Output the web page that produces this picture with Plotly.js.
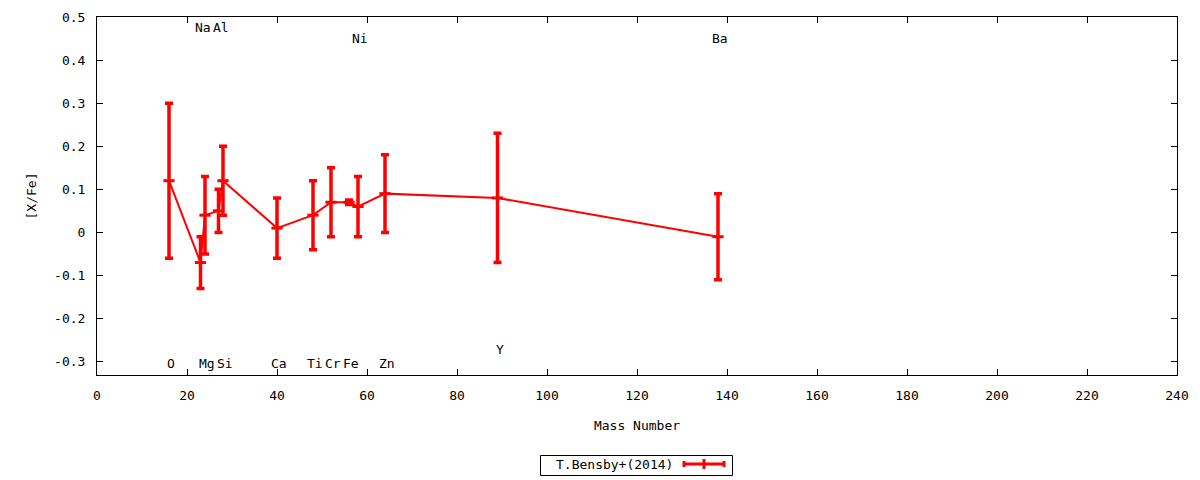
<!DOCTYPE html>
<html>
<head>
<meta charset="utf-8">
<script src="https://cdn.plot.ly/plotly-3.0.1.min.js"></script>
<style>html,body{margin:0;padding:0;background:#fff;}#chart{width:1200px;height:480px;}</style>
</head>
<body>
<div id="chart"></div>
<script>
const elements = ['O','Na','Mg','Al','Si','Ca','Ti','Cr','Fe','Ni','Zn','Y','Ba'];
const massNumber = [16,23,24,27,28,40,48,52,56,58,64,89,138];
const xfe = [0.12,-0.07,0.04,0.05,0.12,0.01,0.04,0.07,0.07,0.06,0.09,0.08,-0.01];
const xfeErr = [0.18,0.06,0.09,0.05,0.08,0.07,0.08,0.08,0.005,0.07,0.09,0.15,0.10];
const labelLevel = [-0.305,0.475,-0.305,0.475,-0.305,-0.305,-0.305,-0.305,-0.305,0.45,-0.305,-0.272,0.45];
const seriesName = 'T.Bensby+(2014)';
const xTickVals = [0,20,40,60,80,100,120,140,160,180,200,220,240];
const yTickVals = [-0.3,-0.2,-0.1,0,0.1,0.2,0.3,0.4,0.5];
const yTickText = ['-0.3','-0.2','-0.1','0','0.1','0.2','0.3','0.4','0.5'];

const FONT = 'DejaVu Sans Mono, monospace';
const RED = '#ff0000';

const trace = {
  x: massNumber, y: xfe, type: 'scatter', mode: 'lines+markers', name: seriesName,
  line: {color: RED, width: 2},
  marker: {symbol: 'line-ew', size: 8, color: RED, line: {color: RED, width: 3}},
  error_y: {type: 'data', array: xfeErr, visible: true, color: RED, thickness: 3.5, width: 4},
  showlegend: false
};

const annotations = elements.map((el, i) => ({
  x: massNumber[i], y: labelLevel[i], xref: 'x', yref: 'y', text: el,
  showarrow: false, xshift: 2, font: {family: FONT, size: 13, color: '#000'}
}));

// legend box (drawn in paper coordinates)
const L = 97, W = 1080, T = 17, H = 358;
const px = v => (v - L) / W;
const py = v => (T + H - v) / H;
const legY = 464;
annotations.push({
  x: px(614), y: py(legY), xref: 'paper', yref: 'paper', text: seriesName,
  showarrow: false, font: {family: FONT, size: 13, color: '#000'}, xanchor: 'center', yanchor: 'middle'
});
const shapes = [
  {type: 'rect', xref: 'paper', yref: 'paper', x0: px(540.5), x1: px(732.5), y0: py(475.5), y1: py(455.5), line: {color: '#000', width: 1}},
  {type: 'line', xref: 'paper', yref: 'paper', x0: px(683), x1: px(725), y0: py(legY), y1: py(legY), line: {color: RED, width: 3}},
  {type: 'line', xref: 'paper', yref: 'paper', x0: px(684), x1: px(684), y0: py(legY - 3), y1: py(legY + 3), line: {color: RED, width: 3}},
  {type: 'line', xref: 'paper', yref: 'paper', x0: px(724), x1: px(724), y0: py(legY - 3), y1: py(legY + 3), line: {color: RED, width: 3}},
  {type: 'line', xref: 'paper', yref: 'paper', x0: px(704), x1: px(704), y0: py(legY - 5), y1: py(legY + 5), line: {color: RED, width: 3}}
];

const layout = {
  width: 1200, height: 480,
  margin: {l: L, r: 1200 - L - W, t: T, b: 480 - T - H, pad: 0},
  paper_bgcolor: '#fff', plot_bgcolor: '#fff',
  font: {family: FONT, size: 13, color: '#000'},
  showlegend: false,
  xaxis: {
    range: [0, 240], tickvals: xTickVals, ticks: 'inside', ticklen: 6, tickcolor: '#000',
    showline: true, linecolor: '#000', linewidth: 1, mirror: 'ticks', showgrid: false, zeroline: false,
    ticklabelstandoff: 8,
    title: {text: 'Mass Number', font: {family: FONT, size: 13}, standoff: 19}
  },
  yaxis: {
    range: [-0.331, 0.5], tickvals: yTickVals, ticktext: yTickText, ticks: 'inside', ticklen: 6, tickcolor: '#000',
    showline: true, linecolor: '#000', linewidth: 1, mirror: 'ticks', showgrid: false, zeroline: false,
    ticklabelstandoff: 8,
    title: {text: '[X/Fe]', font: {family: FONT, size: 13}, standoff: 14}
  },
  annotations: annotations,
  shapes: shapes
};

Plotly.newPlot('chart', [trace], layout, {displayModeBar: false, staticPlot: true});
</script>
</body>
</html>
